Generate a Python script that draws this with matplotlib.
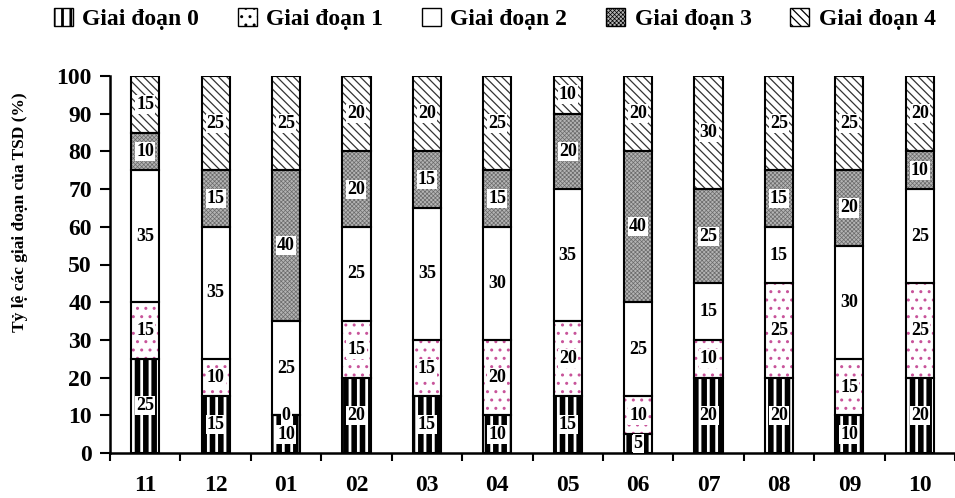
import matplotlib
matplotlib.use("Agg")
import matplotlib.pyplot as plt
import numpy as np
from matplotlib.colors import to_rgba
from matplotlib.patches import Patch

plt.rcParams['font.family'] = ['Liberation Serif', 'DejaVu Serif']
plt.rcParams['font.weight'] = 'bold'

months = ['11', '12', '01', '02', '03', '04', '05', '06', '07', '08', '09', '10']
stage_names = ['Giai đoạn 0', 'Giai đoạn 1', 'Giai đoạn 2', 'Giai đoạn 3', 'Giai đoạn 4']
stage0 = [25, 15, 10, 20, 15, 10, 15, 5, 20, 20, 10, 20]
stage1 = [15, 10, 0, 15, 15, 20, 20, 10, 10, 25, 15, 25]
stage2 = [35, 35, 25, 25, 35, 30, 35, 25, 15, 15, 30, 25]
stage3 = [10, 15, 40, 20, 15, 15, 20, 40, 25, 15, 20, 10]
stage4 = [15, 25, 25, 20, 20, 25, 10, 20, 30, 25, 25, 20]
stages = [stage0, stage1, stage2, stage3, stage4]

# fill style per stage: face, hatch, hatch colour, hatch line width
styles = [
    dict(face='white', hatch='||', hcolor='black', hlw=4.0),
    dict(face='white', hatch='..', hcolor='#c8549a', hlw=1.0),
    dict(face='white', hatch='', hcolor='black', hlw=1.0),
    dict(face='#b4b4b4', hatch='xxxxxxxx', hcolor='#6a6a6a', hlw=0.5),
    dict(face='white', hatch='\\\\\\\\', hcolor='#333333', hlw=0.9),
]

W, H = 955, 498
fig = plt.figure(figsize=(W / 100, H / 100), dpi=100)
ax = fig.add_axes([110 / W, 45 / H, 1 - 110 / W, (453 - 76) / H])

x = np.arange(len(months))
width = 0.40
bottom = np.zeros(len(months))


def style_hatch(patch, st, max_lw=None):
    lw = st['hlw'] if max_lw is None else min(st['hlw'], max_lw)
    patch._hatch_color = to_rgba(st['hcolor'])
    if hasattr(patch, 'set_hatch_linewidth'):
        patch.set_hatch_linewidth(lw)


def hatched_bars(values, base, st):
    with plt.rc_context({'hatch.linewidth': st['hlw'], 'hatch.color': st['hcolor']}):
        bars = ax.bar(x, values, width, bottom=base, color=st['face'],
                      edgecolor=st['hcolor'], hatch=st['hatch'] or None,
                      linewidth=0, zorder=2)
        for b in bars:
            style_hatch(b, st)
    # outline on top
    ax.bar(x, values, width, bottom=base, color='none',
           edgecolor='black', linewidth=1.5, zorder=3)


for vals, st in zip(stages, styles):
    vals = np.array(vals, dtype=float)
    hatched_bars(vals, bottom, st)
    for i, v in enumerate(vals):
        ax.text(x[i], bottom[i] + v / 2, f'{int(v)}', ha='center', va='center',
                fontsize=13, fontweight='bold', zorder=5,
                bbox=dict(facecolor='white', edgecolor='none', pad=0.8))
    bottom += vals

ax.set_xlim(-0.5, -0.5 + (W - 110) / 70.8)
ax.set_ylim(0, 100)
ax.set_yticks(np.arange(0, 101, 10))
ax.tick_params(axis='y', direction='out', length=7, width=1.5, pad=6, labelsize=17)
ax.set_xticks(x)
ax.set_xticklabels(months)
ax.tick_params(axis='x', which='major', length=0, pad=16, labelsize=17)
ax.set_xticks(np.arange(-0.5, len(months), 1.0), minor=True)
ax.tick_params(axis='x', which='minor', direction='out', length=6, width=1.5)
for s in ['top', 'right']:
    ax.spines[s].set_visible(False)
for s in ['left', 'bottom']:
    ax.spines[s].set_linewidth(1.8)

ax.set_ylabel('Tỷ lệ các giai đoạn của TSD (%)', fontsize=12.5, fontweight='bold')
ax.yaxis.set_label_coords(-0.097, 0.64)

handles = [Patch(facecolor=st['face'], edgecolor='black', hatch=st['hatch'] or None,
                 linewidth=1.0, label=name)
           for name, st in zip(stage_names, styles)]
leg = fig.legend(handles=handles, loc='center', bbox_to_anchor=(0.518, 0.962), ncol=5,
                 frameon=False, handlelength=0.8, handleheight=0.8,
                 handletextpad=0.4, columnspacing=1.65,
                 prop=dict(family=['Liberation Serif'], weight='bold', size=17))
for p, st in zip(leg.get_patches(), styles):
    style_hatch(p, st, max_lw=2.0)
    p.set_edgecolor('black')

fig.savefig('out.png', dpi=100)
